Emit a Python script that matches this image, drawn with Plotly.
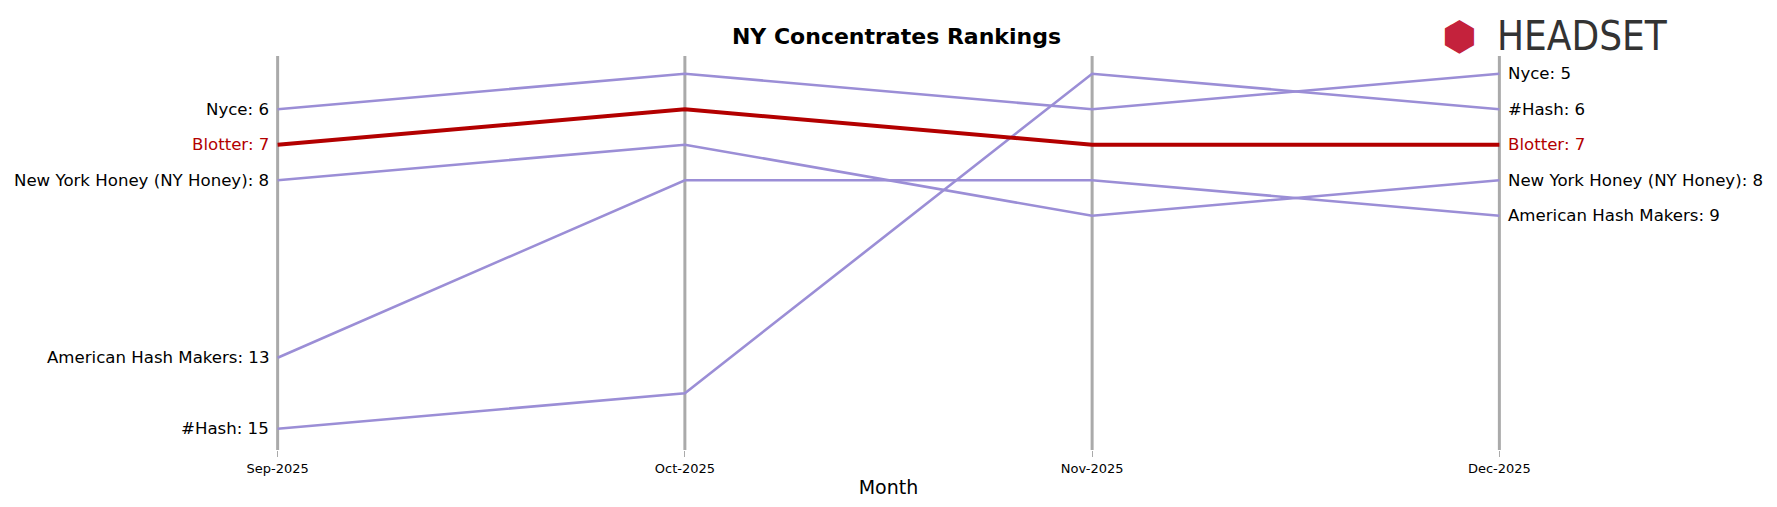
import plotly.graph_objects as go

months = ["Sep-2025", "Oct-2025", "Nov-2025", "Dec-2025"]
brands = ["Nyce", "New York Honey (NY Honey)", "American Hash Makers", "#Hash", "Blotter"]
ranks = {
    "Nyce": [6, 5, 6, 5],
    "New York Honey (NY Honey)": [8, 7, 9, 8],
    "American Hash Makers": [13, 8, 8, 9],
    "#Hash": [15, 14, 5, 6],
    "Blotter": [7, 6, 7, 7],
}
highlight = "Blotter"

fig = go.Figure()
for m in months:
    fig.add_shape(type="line", xref="x", yref="paper", x0=m, x1=m, y0=0, y1=1,
                  line=dict(color="#aaaaaa", width=3), layer="below")
for b in brands:
    hl = b == highlight
    col = "#b30000" if hl else "#9b8ed6"
    fig.add_trace(go.Scatter(x=months, y=ranks[b], mode="lines",
                             line=dict(color=col, width=4 if hl else 2.6),
                             showlegend=False, hoverinfo="skip"))
    fig.add_annotation(x=months[0], y=ranks[b][0], text=f"{b}: {ranks[b][0]}",
                       xanchor="right", xshift=-7, showarrow=False,
                       font=dict(size=16.6, color="#b30000" if hl else "black"))
    fig.add_annotation(x=months[-1], y=ranks[b][-1], text=f"{b}: {ranks[b][-1]}",
                       xanchor="left", xshift=7, showarrow=False,
                       font=dict(size=16.6, color="#b30000" if hl else "black"))

fig.add_annotation(xref="paper", yref="paper", x=0.995, y=1.05, text="HEADSET",
                   showarrow=False, xanchor="left", yanchor="middle",
                   font=dict(size=40, color="#333333", family="DejaVu Sans Condensed"))
fig.add_annotation(xref="paper", yref="paper", x=0.982, y=1.05, text="⬢",
                   showarrow=False, xanchor="right", yanchor="middle",
                   font=dict(size=40, color="#c4223c"))

fig.update_layout(
    width=1777, height=507,
    margin=dict(l=268, r=284, t=48, b=65),
    plot_bgcolor="white", paper_bgcolor="white",
    font=dict(family="DejaVu Sans", color="black"),
    title=dict(text="<b>NY Concentrates Rankings</b>", x=0.5, xanchor="center",
               y=0.945, yanchor="middle", font=dict(size=22)),
    xaxis=dict(showgrid=False, zeroline=False,
               title=dict(text="Month", font=dict(size=19), standoff=6),
               tickfont=dict(size=13), ticks="outside", ticklen=6, tickcolor="#aaaaaa",
               range=[-0.004, 3.004]),
    yaxis=dict(range=[15.6, 4.5], showgrid=False, showticklabels=False, zeroline=False),
)
fig.write_html("out.html")
